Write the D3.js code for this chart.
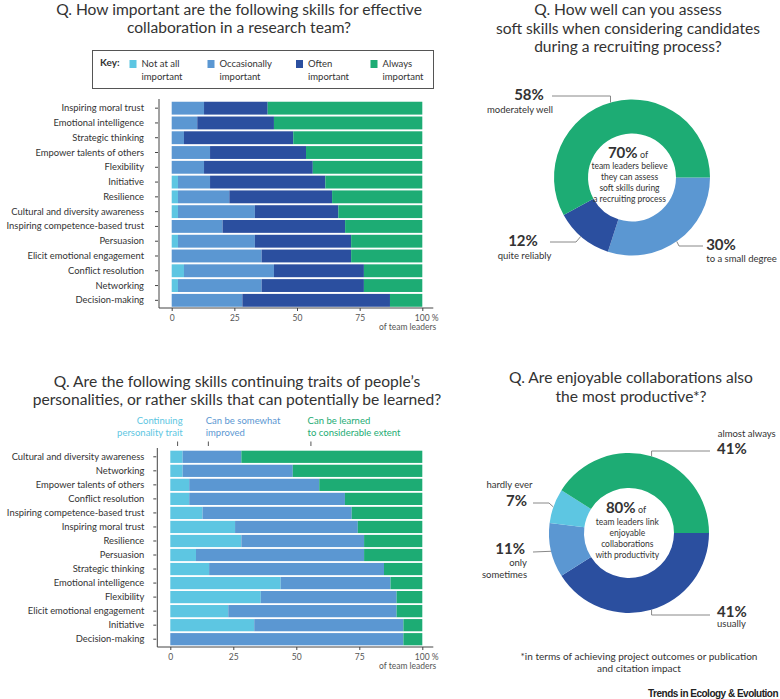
<!DOCTYPE html>
<html><head><meta charset="utf-8">
<script src="https://cdn.jsdelivr.net/npm/d3@7"></script>
<style>
html,body{margin:0;padding:0;background:#fff;}
svg{display:block;font-family:Lato,"Open Sans",sans-serif;}
</style></head>
<body>
<svg id="c" width="780" height="699"></svg>
<script>
// ---------- DATA ----------
const importanceSkills = ["Inspiring moral trust","Emotional intelligence","Strategic thinking","Empower talents of others","Flexibility","Initiative","Resilience","Cultural and diversity awareness","Inspiring competence-based trust","Persuasion","Elicit emotional engagement","Conflict resolution","Networking","Decision-making"];
const notAtAll     = [0,0,0,0,0,2.5,2.5,2.5,0,2.5,0,4.9,2.5,0];
const occasionally = [12.9,10.2,4.9,15.3,12.9,12.8,20.5,30.7,20.3,30.7,35.9,35.9,33.4,28.2];
const often        = [25.4,30.6,43.6,38.3,43.4,46.0,41.0,33.3,48.9,38.4,35.7,35.9,40.8,58.9];
const always       = [61.7,59.2,51.5,46.4,43.7,38.7,36.0,33.5,30.8,28.4,28.4,23.3,23.3,12.9];
const importanceKeys = ["Not at all|important","Occasionally|important","Often|important","Always|important"];

const learnSkills = ["Cultural and diversity awareness","Networking","Empower talents of others","Conflict resolution","Inspiring competence-based trust","Inspiring moral trust","Resilience","Persuasion","Strategic thinking","Emotional intelligence","Flexibility","Elicit emotional engagement","Initiative","Decision-making"];
const personalityTrait = [4.9,4.9,7.5,7.5,12.8,25.7,28.2,10.2,15.4,43.8,35.9,23.0,33.3,0];
const somewhatImproved = [23.3,43.7,51.6,61.8,59.2,48.7,48.7,66.7,69.4,43.6,53.9,66.8,59.2,92.5];
const learnedConsiderably = [71.8,51.4,40.9,30.7,28.0,25.6,23.1,23.1,15.2,12.6,10.2,10.2,7.5,7.5];
const learnKeys = ["Continuing|personality trait","Can be somewhat|improved","Can be learned|to considerable extent"];
const learnKeyAt = [2.9,15.1,55.8];

const xTicks = [0,25,50,75,100];

const recruitLabels = ["to a small degree","quite reliably","moderately well"];
const recruitValues = [30,12,58];
const enjoyLabels = ["usually","only sometimes","hardly ever","almost always"];
const enjoyValues = [41,11,7,41];

// ---------- STYLE ----------
const C = {cyan:"#5dc6e2", mid:"#5b97d2", dark:"#2b4f9f", green:"#1dac74"};
const TXT = "#333";
const svg = d3.select("#c");

function multiline(g, x, y, lines, lh, attrs) {
  const t = g.append("text").attr("x", x).attr("y", y);
  Object.entries(attrs||{}).forEach(([k,v])=>t.attr(k,v));
  lines.forEach((l,i)=>t.append("tspan").attr("x",x).attr("dy", i===0?0:lh).text(l));
  return t;
}

// ---------- STACKED BAR CHART ----------
function stacked(opts){
  const {skills, series, colors, x0, x1, y0, y1, axisX, padLabel, axisY} = opts;
  const g = svg.append("g");
  const x = d3.scaleLinear().domain([0,100]).range([x0,x1]);
  const y = d3.scaleBand().domain(skills).range([y0,y1]).paddingInner(0.13).paddingOuter(0.05);
  const rows = skills.map((s,i)=>{ const o={skill:s}; series.forEach((arr,k)=>o["k"+k]=arr[i]); return o;});
  const keys = series.map((_,k)=>"k"+k);
  const stack = d3.stack().keys(keys)(rows);
  stack.forEach((layer,k)=>{
    g.append("g").attr("fill",colors[k]).selectAll("rect").data(layer).join("rect")
      .attr("x",d=>x(d[0])).attr("width",d=>Math.max(0,x(d[1])-x(d[0])))
      .attr("y",d=>y(d.data.skill)).attr("height",y.bandwidth());
  });
  // left axis
  const ya = g.append("g").attr("transform",`translate(${axisX},0)`)
    .call(d3.axisLeft(y).tickSize(4).tickPadding(padLabel));
  ya.select(".domain").remove();
  ya.selectAll(".tick line").attr("stroke","#444").attr("x1",-1).attr("x2",-4);
  ya.selectAll(".tick text").attr("fill",TXT).style("font-size","9.4px").style("font-family","Lato");
  g.append("line").attr("x1",axisX).attr("x2",axisX).attr("y1",y0-2).attr("y2",axisY).attr("stroke","#444");
  // bottom axis
  const xa = g.append("g").attr("transform",`translate(0,${axisY})`)
    .call(d3.axisBottom(x).tickValues(xTicks).tickSize(3).tickPadding(4).tickFormat(d=>d===100?"100 %":d));
  xa.select(".domain").remove();
  xa.selectAll(".tick line").attr("stroke","#444");
  xa.selectAll(".tick text").attr("fill","#555").style("font-size","8.5px").style("font-family","Lato");
  xa.selectAll(".tick text").filter(d=>d===100).attr("text-anchor","start").attr("dx","-8");
  g.append("line").attr("x1",axisX).attr("x2",x1+11).attr("y1",axisY).attr("y2",axisY).attr("stroke","#444");
  g.append("text").attr("x",x1+14).attr("y",axisY+22).attr("text-anchor","end")
    .attr("fill","#555").style("font-size","8.5px").text("of team leaders");
  return {x,y,g};
}

// Top-left title
multiline(svg, 239, 15, ["Q. How important are the following skills for effective","collaboration in a research team?"], 18,
  {"text-anchor":"middle","fill":TXT,"font-size":"15.6px"});

// legend box
svg.append("rect").attr("x",92.5).attr("y",50.5).attr("width",341).attr("height",38).attr("fill","none").attr("stroke","#555").attr("stroke-width",1);
svg.append("text").attr("x",100).attr("y",66).attr("fill",TXT).attr("font-weight","bold").attr("font-size","10px").text("Key:");
const keyX = [129.5,207.5,296,370.5];
const keyColors = [C.cyan,C.mid,C.dark,C.green];
importanceKeys.forEach((k,i)=>{
  svg.append("rect").attr("x",keyX[i]).attr("y",60).attr("width",7).attr("height",8).attr("fill",keyColors[i]);
  multiline(svg, keyX[i]+12, 66.5, k.split("|"), 13.5, {"fill":TXT,"font-size":"9.5px"});
});

stacked({skills:importanceSkills, series:[notAtAll,occasionally,often,always],
  colors:[C.cyan,C.mid,C.dark,C.green], x0:171.7, x1:422.3, y0:101, y1:307.5, axisX:159, padLabel:11, axisY:308});

// Bottom-left title
multiline(svg, 237, 387, ["Q. Are the following skills continuing traits of people\u2019s","personalities, or rather skills that can potentially be learned?"], 17.5,
  {"text-anchor":"middle","fill":TXT,"font-size":"15.6px"});

const bl = stacked({skills:learnSkills, series:[personalityTrait,somewhatImproved,learnedConsiderably],
  colors:[C.cyan,C.mid,C.green], x0:170.3, x1:422.3, y0:450, y1:646, axisX:157.3, padLabel:9, axisY:647});
// legend above bottom chart
const lkColors = [C.cyan, C.mid, C.green];
const lkAnchor = ["end","start","start"];
const lkDx = [5,-2.6,-3.3];
learnKeys.forEach((k,i)=>{
  const px = bl.x(learnKeyAt[i]);
  svg.append("line").attr("x1",px).attr("x2",px).attr("y1",441.5).attr("y2",446).attr("stroke","#555");
  multiline(svg, px+lkDx[i], 424, k.split("|"), 12, {"fill":lkColors[i],"font-size":"9.5px","text-anchor":lkAnchor[i]});
});

// ---------- DONUTS ----------
function donut(opts){
  const {cx, cy, rOut, rIn, values, colors} = opts;
  const g = svg.append("g").attr("transform",`translate(${cx},${cy})`);
  const pie = d3.pie().sort(null).startAngle(Math.PI/2).endAngle(Math.PI/2+2*Math.PI);
  const arc = d3.arc().innerRadius(rIn).outerRadius(rOut);
  const arcs = pie(values);
  g.selectAll("path").data(arcs).join("path").attr("d",arc).attr("fill",(d,i)=>colors[i]);
  return {g, arcs};
}

// Top-right title
multiline(svg, 628, 15, ["Q. How well can you assess","soft skills when considering candidates","during a recruiting process?"], 18.5,
  {"text-anchor":"middle","fill":TXT,"font-size":"15.6px"});

const d1 = {cx:632, cy:177.5, rOut:78, rIn:44};
donut({...d1, values:recruitValues, colors:[C.mid,C.dark,C.green]});
// leaders donut 1
(function(){
  const p = (a)=>{const r=a*Math.PI/180; return [d1.cx+d1.rOut*Math.sin(r), d1.cy-d1.rOut*Math.cos(r)];};
  const t = p(344); svg.append("path").attr("d",d3.line()([t,[t[0],96],[552,96]])).attr("fill","none").attr("stroke","#888");
  const b = p(221); svg.append("path").attr("d",d3.line()([b,[576,242],[550,242]])).attr("fill","none").attr("stroke","#888");
  const c = p(145); svg.append("path").attr("d",d3.line()([c,[679,246],[703,246]])).attr("fill","none").attr("stroke","#888");
})();
svg.append("text").attr("x",529).attr("y",100).attr("text-anchor","middle").attr("font-weight","bold").attr("font-size","15px").attr("fill",TXT).text(recruitValues[2]+"%");
svg.append("text").attr("x",520).attr("y",113).attr("text-anchor","middle").attr("font-size","9.5px").attr("fill",TXT).text(recruitLabels[2]);
svg.append("text").attr("x",523).attr("y",246).attr("text-anchor","middle").attr("font-weight","bold").attr("font-size","15px").attr("fill",TXT).text(recruitValues[1]+"%");
svg.append("text").attr("x",524.5).attr("y",258.5).attr("text-anchor","middle").attr("font-size","9.5px").attr("fill",TXT).text(recruitLabels[1]);
svg.append("text").attr("x",721).attr("y",250).attr("text-anchor","middle").attr("font-weight","bold").attr("font-size","15px").attr("fill",TXT).text(recruitValues[0]+"%");
svg.append("text").attr("x",741.5).attr("y",261.5).attr("text-anchor","middle").attr("font-size","9.5px").attr("fill",TXT).text(recruitLabels[0]);
// center text donut1
(function(){
  const t = svg.append("text").attr("x",628).attr("y",158).attr("text-anchor","middle").attr("fill",TXT);
  t.append("tspan").attr("font-weight","bold").attr("font-size","15px").text("70%");
  t.append("tspan").attr("font-size","9px").text(" of");
  multiline(svg, 629.5, 168.5, ["team leaders believe","they can assess","soft skills during","a recruiting process"], 11.2,
    {"text-anchor":"middle","fill":TXT,"font-size":"8.5px"});
})();

// Bottom-right title
multiline(svg, 631, 383, ["Q. Are enjoyable collaborations also","the most productive*?"], 18.5,
  {"text-anchor":"middle","fill":TXT,"font-size":"15.6px"});

const d2 = {cx:629, cy:533, rOut:80, rIn:45};
donut({...d2, values:enjoyValues, colors:[C.dark,C.mid,C.cyan,C.green]});
(function(){
  const p = (a)=>{const r=a*Math.PI/180; return [d2.cx+d2.rOut*Math.sin(r), d2.cy-d2.rOut*Math.cos(r)];};
  const a = p(16.4); svg.append("path").attr("d",d3.line()([a,[a[0],451],[710,451]])).attr("fill","none").attr("stroke","#888");
  const u = p(163.6); svg.append("path").attr("d",d3.line()([u,[u[0],615],[710,615]])).attr("fill","none").attr("stroke","#888");
  const h = p(289); svg.append("path").attr("d",d3.line()([h,[549,503],[533,503]])).attr("fill","none").attr("stroke","#888");
  const o = p(256.8); svg.append("path").attr("d",d3.line()([o,[533,552]])).attr("fill","none").attr("stroke","#888");
})();
svg.append("text").attr("x",746.7).attr("y",436.5).attr("text-anchor","middle").attr("font-size","9.5px").attr("fill",TXT).text(enjoyLabels[3]);
svg.append("text").attr("x",717).attr("y",454).attr("font-weight","bold").attr("font-size","15px").attr("fill",TXT).text(enjoyValues[3]+"%");
svg.append("text").attr("x",717).attr("y",616.5).attr("font-weight","bold").attr("font-size","15px").attr("fill",TXT).text(enjoyValues[0]+"%");
svg.append("text").attr("x",717).attr("y",627).attr("font-size","9.5px").attr("fill",TXT).text(enjoyLabels[0]);
svg.append("text").attr("x",509.5).attr("y",487.5).attr("text-anchor","middle").attr("font-size","9.5px").attr("fill",TXT).text(enjoyLabels[2]);
svg.append("text").attr("x",527).attr("y",505.5).attr("text-anchor","end").attr("font-weight","bold").attr("font-size","15px").attr("fill",TXT).text(enjoyValues[2]+"%");
svg.append("text").attr("x",525).attr("y",554).attr("text-anchor","end").attr("font-weight","bold").attr("font-size","15px").attr("fill",TXT).text(enjoyValues[1]+"%");
multiline(svg, 527, 566, enjoyLabels[1].split(" "), 12, {"text-anchor":"end","fill":TXT,"font-size":"9.5px"});
(function(){
  const t = svg.append("text").attr("x",626).attr("y",513).attr("text-anchor","middle").attr("fill",TXT);
  t.append("tspan").attr("font-weight","bold").attr("font-size","15px").text("80%");
  t.append("tspan").attr("font-size","9px").text(" of");
  multiline(svg, 627.3, 524.5, ["team leaders link","enjoyable","collaborations","with productivity"], 11.3,
    {"text-anchor":"middle","fill":TXT,"font-size":"8.5px"});
})();

multiline(svg, 639, 659.5, ["*in terms of achieving project outcomes or publication","and citation impact"], 12,
  {"text-anchor":"middle","fill":TXT,"font-size":"10px"});
svg.append("text").attr("x",778).attr("y",697).attr("text-anchor","end")
  .attr("font-family","Liberation Sans, Arial, sans-serif").attr("font-weight","bold").attr("font-size","10px")
  .attr("letter-spacing","-0.5").attr("fill","#222").text("Trends in Ecology & Evolution");
</script>
</body></html>
